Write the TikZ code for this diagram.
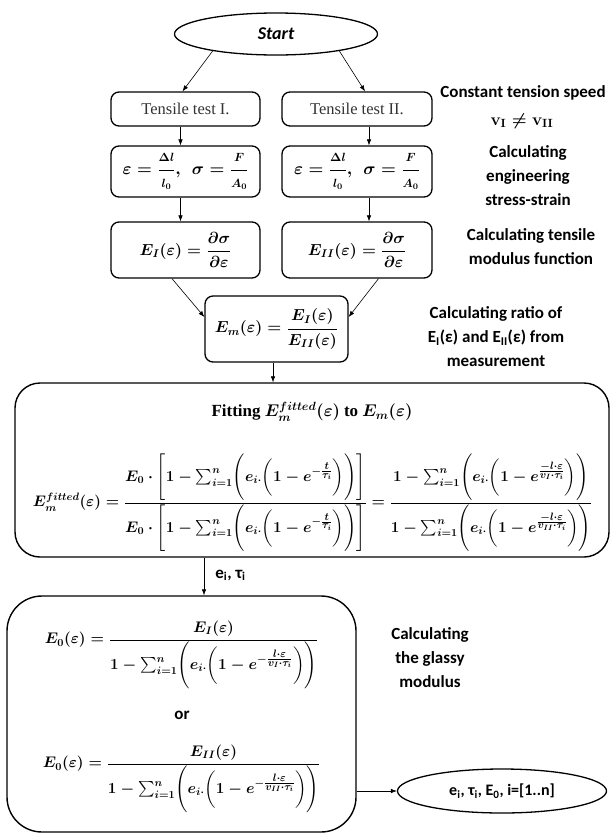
\documentclass[tikz,border=0pt]{standalone}
\usepackage{fix-cm}
\usepackage[no-math]{fontspec}
\setmainfont{Carlito}
\newfontfamily\serifrm{Liberation Serif}
\usepackage{amsmath}
\usepackage{graphicx}
\usetikzlibrary{shapes.geometric,arrows.meta,calc}
\begin{document}
\begin{tikzpicture}[x=1pt,y=-1pt,
  box/.style={draw, line width=1.3pt, rounded corners=8pt, inner sep=0pt},
  bigbox/.style={draw, line width=1.4pt, inner sep=0pt},
  conn/.style={-{Latex[length=6pt,width=4.5pt]}, line width=0.6pt},
  lbl/.style={font=\bfseries\fontsize{17}{24}\selectfont, align=center, inner sep=0pt},
  mth/.style={font=\boldmath\fontsize{16}{20}\selectfont},
  tt/.style={font=\serifrm\fontsize{16.5}{18}\selectfont, text=black!80}]
\useasboundingbox (0,0) rectangle (611,833);

% start
\node[draw, ellipse, line width=1.3pt, minimum width=203pt, minimum height=42pt, inner sep=0pt,
      font=\bfseries\itshape\fontsize{18}{20}\selectfont] (start) at (276,34) {Start};

% column boxes
\node[box, tt, minimum width=149pt, minimum height=34pt] (t1) at (185.5,109) {Tensile test I.};
\node[box, tt, minimum width=150pt, minimum height=34pt] (t2) at (357,109) {Tensile test II.};
\node[box, font=\boldmath\fontsize{17}{20}\selectfont, minimum width=149pt, minimum height=51pt] (s1) at (185.5,171.5)
  {$\varepsilon = \dfrac{\scriptstyle\Delta l}{\scriptstyle l_0},\ \ \sigma = \dfrac{\scriptstyle F}{\scriptstyle A_0}$};
\node[box, font=\boldmath\fontsize{17}{20}\selectfont, minimum width=150pt, minimum height=51pt] (s2) at (357,171.5)
  {$\varepsilon = \dfrac{\scriptstyle\Delta l}{\scriptstyle l_0},\ \ \sigma = \dfrac{\scriptstyle F}{\scriptstyle A_0}$};
\node[box, mth, minimum width=149pt, minimum height=56pt] (e1) at (185.5,250)
  {$E_I(\varepsilon) = \dfrac{\partial\sigma}{\partial\varepsilon}$};
\node[box, mth, minimum width=150pt, minimum height=56pt] (e2) at (357,250)
  {$E_{II}(\varepsilon) = \dfrac{\partial\sigma}{\partial\varepsilon}$};
\node[box, mth, minimum width=143pt, minimum height=66pt] (em) at (276.5,329)
  {$E_m(\varepsilon) = \dfrac{E_I(\varepsilon)}{E_{II}(\varepsilon)}$};

% fitting box
\node[bigbox, rounded corners=25pt, minimum width=594pt, minimum height=174pt] (fit) at (312,470) {};
\node[font=\boldmath\fontsize{17}{20}\selectfont, inner sep=0pt] (fithead) at (312,412)
  {{\serifrm\bfseries Fitting} $E_m^{fitted}(\varepsilon)$ {\serifrm\bfseries to} $E_m(\varepsilon)$};
\node[font=\boldmath\fontsize{17}{20}\selectfont, inner sep=0pt] (fiteq) at (312.5,503) {\resizebox{559pt}{!}{$\displaystyle
  E_m^{fitted}(\varepsilon)=
  \frac{E_0\cdot\Biggl[1-\sum_{i=1}^{n}\Biggl(e_{i\cdot}\biggl(1-e^{-\frac{\scriptstyle t}{\scriptstyle\tau_i}}\biggr)\Biggr)\Biggr]}
       {E_0\cdot\Biggl[1-\sum_{i=1}^{n}\Biggl(e_{i\cdot}\biggl(1-e^{-\frac{\scriptstyle t}{\scriptstyle\tau_i}}\biggr)\Biggr)\Biggr]}
  =\frac{1-\sum_{i=1}^{n}\Biggl(e_{i\cdot}\biggl(1-e^{\frac{\scriptstyle -l\cdot\varepsilon}{\scriptstyle v_I\cdot\tau_i}}\biggr)\Biggr)}
        {1-\sum_{i=1}^{n}\Biggl(e_{i\cdot}\biggl(1-e^{\frac{\scriptstyle -l\cdot\varepsilon}{\scriptstyle v_{II}\cdot\tau_i}}\biggr)\Biggr)}$}};

% glassy modulus box
\node[bigbox, rounded corners=35pt, minimum width=349pt, minimum height=236pt] (e0) at (181.5,714) {};
\node[font=\boldmath\fontsize{17}{20}\selectfont, inner sep=0pt] (f1) at (181.5,655) {\resizebox{273pt}{!}{$\displaystyle
  E_0(\varepsilon)=\frac{E_I(\varepsilon)}
  {1-\sum_{i=1}^{n}\Biggl(e_{i\cdot}\biggl(1-e^{-\frac{\scriptstyle l\cdot\varepsilon}{\scriptstyle v_I\cdot\tau_i}}\biggr)\Biggr)}$}};
\node[font=\bfseries\fontsize{17}{20}\selectfont, inner sep=0pt] (or) at (182,715) {or};
\node[font=\boldmath\fontsize{17}{20}\selectfont, inner sep=0pt] (f2) at (181.5,779) {\resizebox{277pt}{!}{$\displaystyle
  E_0(\varepsilon)=\frac{E_{II}(\varepsilon)}
  {1-\sum_{i=1}^{n}\Biggl(e_{i\cdot}\biggl(1-e^{-\frac{\scriptstyle l\cdot\varepsilon}{\scriptstyle v_{II}\cdot\tau_i}}\biggr)\Biggr)}$}};

% output ellipse
\node[draw, ellipse, line width=1.3pt, minimum width=209pt, minimum height=44pt, inner sep=0pt,
      font=\bfseries\fontsize{16}{18}\selectfont] (out) at (502,791)
  {e\textsubscript{i}, τ\textsubscript{i}, E\textsubscript{0}, i=[1..n]};

% side labels
\node[lbl] (l1) at (523,93) {Constant tension speed};
\node[font=\boldmath\fontsize{17}{20}\selectfont, inner sep=0pt] (l1b) at (522,121)
  {$\mathbf{v}_{\mathbf{I}}\neq\mathbf{v}_{\mathbf{II}}$};
\node[lbl] (l2) at (528,176) {Calculating\\engineering\\stress-strain};
\node[lbl] (l3) at (531,246.5) {Calculating tensile\\modulus function};
\node[lbl] (l4) at (496,337) {Calculating ratio of\\E\textsubscript{I}(ε) and E\textsubscript{II}(ε) from\\measurement};
\node[lbl] (l5) at (430,658) {Calculating\\the glassy\\modulus};

% connectors
\draw[conn] (start.195) -- ([xshift=-3pt]t1.north);
\draw[conn] (start.-15) -- ([xshift=8pt]t2.north);
\draw[conn] ([xshift=-5pt]t1.south) -- ([xshift=-5pt]s1.north);
\draw[conn] ([xshift=12pt]t2.south) -- ([xshift=12pt]s2.north);
\draw[conn] ([xshift=-5pt]s1.south) -- ([xshift=-5pt]e1.north);
\draw[conn] ([xshift=12pt]s2.south) -- ([xshift=12pt]e2.north);
\draw[conn] ([xshift=-13.5pt]e1.south) -- ([yshift=12pt]em.west);
\draw[conn] ([xshift=21.5pt]e2.south) -- ([yshift=12pt]em.east);
\draw[conn] ([xshift=-3.5pt]em.south) -- ([xshift=-3.5pt]em.south |- fit.north);
\coordinate (k) at (204,0);
\draw[conn] (fit.south -| k) -- (e0.north -| k)
  node[pos=0.47, right=11pt, font=\bfseries\fontsize{17}{20}\selectfont, inner sep=0pt] (lab)
  {e\textsubscript{i}, τ\textsubscript{i}};
\draw[conn] (e0.east |- out.west) -- (out.west);
\end{tikzpicture}
\end{document}
